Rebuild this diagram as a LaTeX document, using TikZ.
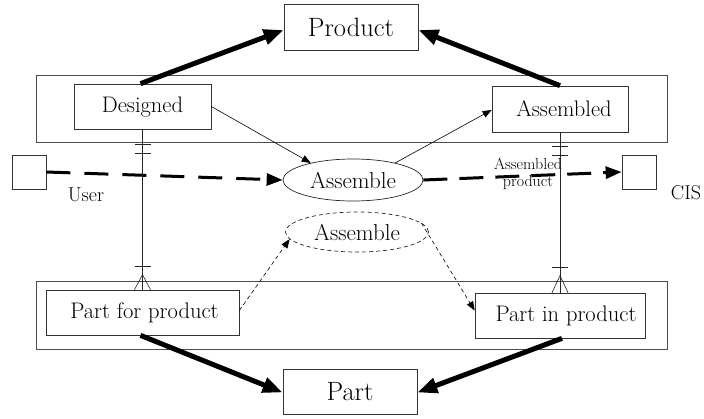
\documentclass[tikz,border=0pt]{standalone}
\usetikzlibrary{arrows.meta,shapes.geometric,calc}
\begin{document}
\begin{tikzpicture}[x=1pt,y=-1pt,
  box/.style={draw=black!80,line width=0.7pt,rectangle,inner sep=0pt,fill=white},
  frame/.style={draw=black!70,line width=0.7pt},
  bigarrow/.style={line width=5pt,-{Triangle[length=20pt,width=15pt]}},
  flowarrow/.style={line width=3pt,dash pattern=on 24pt off 14pt,-{Triangle[length=16pt,width=12pt]}},
  thinarrow/.style={line width=0.6pt,-{Triangle[length=9pt,width=7pt]}},
  dasharrow/.style={line width=0.6pt,dash pattern=on 4pt off 3pt,-{Triangle[length=9pt,width=7pt]}},
  rel/.style={line width=0.6pt,black!85},
  bigtext/.style={font=\fontsize{26.5}{30}\selectfont},
  midtext/.style={font=\fontsize{22.5}{26}\selectfont},
]
\useasboundingbox (0,0) rectangle (704,418);

% grouping frames
\draw[frame] (36,75) rectangle (667,142);
\draw[frame] (36,281) rectangle (667,349);

% entity boxes
\node[box,bigtext,minimum width=134pt,minimum height=46pt] (product) at (351,27) {Product};
\node[box,bigtext,minimum width=134pt,minimum height=45pt] (part) at (350,391.5) {Part};
\node[box,midtext,minimum width=137pt,minimum height=45pt] (designed) at (142.5,106.5) {Designed};
\node[box,midtext,minimum width=136pt,minimum height=46pt] (assembled) at (560,109) {\hspace{8pt}Assembled};
\node[box,midtext,minimum width=193pt,minimum height=45pt] (pfp) at (142.5,312.5) {\hspace{4pt}Part for product};
\node[box,midtext,minimum width=170pt,minimum height=45pt] (pip) at (560,315.5) {\hspace{12pt}Part in product};

% external agents
\node[box,minimum width=34pt,minimum height=34pt] (user) at (29,172) {};
\node[box,minimum width=34pt,minimum height=34pt] (cis) at (639,172) {};
\node[font=\fontsize{20}{24}\selectfont] (userlbl) at (86,195) {User};
\node[font=\fontsize{20}{24}\selectfont] (cislbl) at (686,193) {CIS};

% processes
\node[draw=black!85,line width=0.7pt,ellipse,inner sep=0pt,minimum width=140pt,minimum height=42pt,
      font=\fontsize{23}{26}\selectfont] (asm) at (353,180) {Assemble};
\node[draw=black!85,line width=0.7pt,dash pattern=on 4pt off 3pt,ellipse,inner sep=0pt,
      minimum width=143pt,minimum height=40pt,font=\fontsize{23}{26}\selectfont] (asm2) at (357,232) {Assemble};

% generalisation arrows
\draw[bigarrow] ([xshift=-2pt]designed.north) -- ([yshift=-3pt]product.west);
\draw[bigarrow] ([xshift=0pt]assembled.north) -- ([yshift=-3pt]product.east);
\draw[bigarrow] ([xshift=-2pt]pfp.south) -- ([yshift=-1pt]part.west);
\draw[bigarrow] ([xshift=2pt]pip.south) -- ([yshift=-1pt]part.east);

% state transitions through the process
\draw[thinarrow] ([yshift=0pt]designed.east) -- (asm.158);
\draw[thinarrow] (asm.22) -- ([yshift=-1pt]assembled.west);
\draw[dasharrow] ([yshift=2pt]pfp.east) -- (asm2.186);
\draw[dasharrow] (asm2.8) -- ([yshift=5pt]pip.west);

% material flow
\draw[flowarrow] (user.east) -- (asm.west);
\node[fill=white,inner sep=1pt,align=center,font=\fontsize{16}{16.5}\selectfont] (aplbl) at (528,174) {Assembled\\product};
\draw[flowarrow,dash pattern=on 24pt off 12pt] (asm.east) -- (cis.west);

% relationships with cardinality marks
\draw[rel] (designed.south) -- (designed.south |- pfp.north);
\draw[rel] ([xshift=-8pt,yshift=-15pt]designed.south) -- ([xshift=8pt,yshift=-15pt]designed.south);
\draw[rel] ([xshift=-8pt,yshift=-24pt]designed.south) -- ([xshift=8pt,yshift=-24pt]designed.south);
\draw[rel] ([xshift=-8pt,yshift=23pt]pfp.north) -- ([xshift=8pt,yshift=23pt]pfp.north);
\draw[rel] ([xshift=-8pt]pfp.north) -- ([yshift=15pt]pfp.north) -- ([xshift=8pt]pfp.north);

\draw[rel] (assembled.south) -- (pip.north);
\draw[rel] ([xshift=-8pt,yshift=-14pt]assembled.south) -- ([xshift=8pt,yshift=-14pt]assembled.south);
\draw[rel] ([xshift=-8pt,yshift=-23pt]assembled.south) -- ([xshift=8pt,yshift=-23pt]assembled.south);
\draw[rel] ([xshift=-8pt,yshift=25pt]pip.north) -- ([xshift=8pt,yshift=25pt]pip.north);
\draw[rel] ([xshift=-8pt]pip.north) -- ([yshift=17pt]pip.north) -- ([xshift=8pt]pip.north);
\end{tikzpicture}
\end{document}
